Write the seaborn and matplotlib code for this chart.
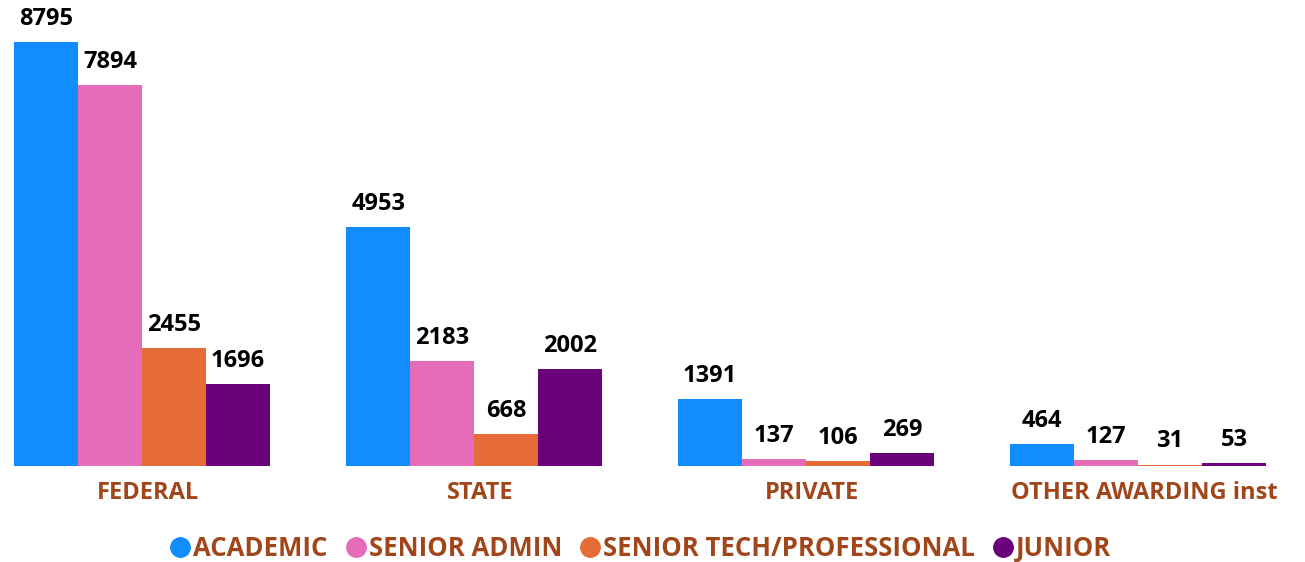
import pandas as pd
import numpy as np
import matplotlib.pyplot as plt
import matplotlib.transforms as mtransforms
import seaborn as sns
from matplotlib.lines import Line2D

# data
sectors = ['FEDERAL', 'STATE', 'PRIVATE', 'OTHER AWARDING inst']
staff = ['ACADEMIC', 'SENIOR ADMIN', 'SENIOR TECH/PROFESSIONAL', 'JUNIOR']
academic = [8795, 4953, 1391, 464]
senior_admin = [7894, 2183, 137, 127]
senior_tech = [2455, 668, 106, 31]
junior = [1696, 2002, 269, 53]

colors = ['#118DFF', '#E66CB9', '#E66C37', '#6B007B']
brown = '#A0461A'

rows = []
for name, vals in zip(staff, [academic, senior_admin, senior_tech, junior]):
    for s, v in zip(sectors, vals):
        rows.append({'sector': s, 'staff': name, 'count': v})
df = pd.DataFrame(rows)

sns.set_style('white')
plt.rcParams['font.family'] = ['Open Sans', 'DejaVu Sans']

fig = plt.figure(figsize=(13.05, 5.62), dpi=100)
ax = fig.add_axes([0, 96 / 562, 1, 466 / 562])

sns.barplot(data=df, x='sector', y='count', hue='staff', order=sectors,
            hue_order=staff, palette=colors, width=0.77, saturation=1,
            linewidth=0, legend=False, ax=ax)

for c in ax.containers:
    ax.bar_label(c, fmt='%d', padding=8, fontsize=17, fontweight='bold', color='black')

ax.set_ylim(0, 8795 * 466 / 424)
ax.set_xlim(-142 / 332, (1305 - 142) / 332)
ax.set_xlabel('')
ax.set_ylabel('')
ax.set_yticks([])
sns.despine(ax=ax, left=True, bottom=True)
ax.tick_params(axis='x', length=0, pad=11)
# category labels sit a little right of the bar groups
shift = mtransforms.ScaledTranslation(0.06, 0, fig.dpi_scale_trans)
for t in ax.get_xticklabels():
    t.set_color(brown)
    t.set_fontweight('bold')
    t.set_fontsize(17)
    t.set_transform(t.get_transform() + shift)

handles = [Line2D([], [], marker='o', linestyle='', markersize=14, color=c) for c in colors]
leg = fig.legend(handles, staff, loc='center', bbox_to_anchor=(0.49, 14 / 562), ncol=4,
                 frameon=False, handletextpad=0.0, columnspacing=0.6, handlelength=1.0,
                 prop={'weight': 'bold', 'size': 18.5})
for t in leg.get_texts():
    t.set_color(brown)

fig.savefig('out.png', dpi=100)
